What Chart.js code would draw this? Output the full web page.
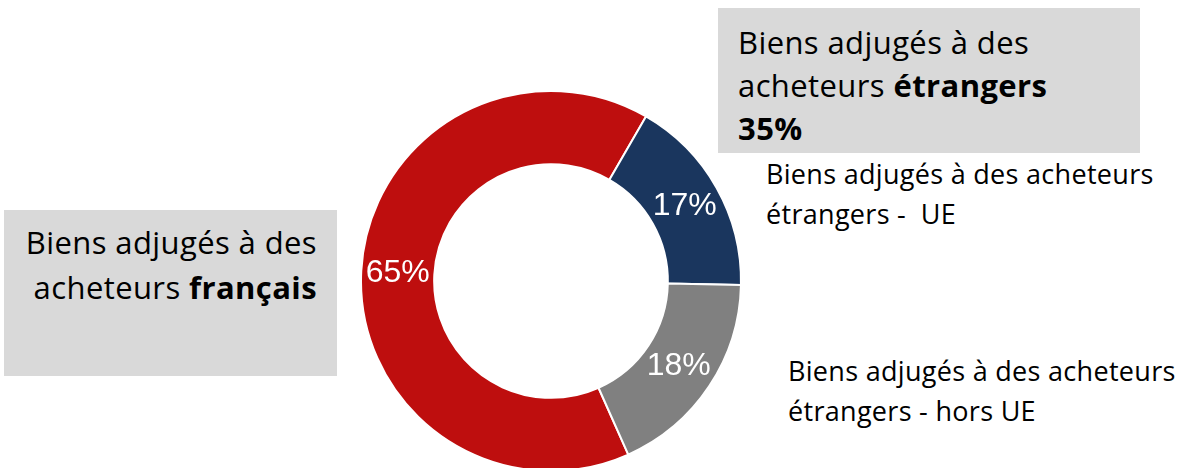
<!DOCTYPE html>
<html lang="fr">
<head>
<meta charset="utf-8">
<script src="https://cdn.jsdelivr.net/npm/chart.js@4/dist/chart.umd.min.js"></script>
<style>
  html, body { margin: 0; padding: 0; background: #fff; overflow: hidden; }
  #wrap { position: relative; width: 1181px; height: 468px; }
  #wrap canvas { position: absolute; left: 0; top: 0; }
  .box { position: absolute; background: #d9d9d9; }
  .txt { position: absolute; font-family: "Open Sans", Lato, sans-serif; color: #000; white-space: nowrap; }
  .big { font-size: 31px; letter-spacing: 0.4px; }
  .small { font-size: 27px; line-height: 40px; letter-spacing: 0.3px; }
  b { font-weight: 700; }
</style>
</head>
<body>
<div id="wrap">
  <div class="box" style="left:4px; top:210px; width:333px; height:166px;"></div>
  <div class="box" style="left:718px; top:8px; width:422px; height:145px;"></div>
  <div class="txt big" style="right:864px; top:220px; line-height:45px; text-align:right;">Biens adjugés à des<br>acheteurs <b>français</b></div>
  <div class="txt big" style="left:738px; top:21px; line-height:43px;">Biens adjugés à des<br>acheteurs <b>étrangers</b><br><b>35%</b></div>
  <div class="txt small" style="left:766px; top:154px;">Biens adjugés à des acheteurs<br>étrangers -&nbsp; UE</div>
  <div class="txt small" style="left:788px; top:351px;">Biens adjugés à des acheteurs<br>étrangers - hors UE</div>
  <canvas id="donut"></canvas>
</div>
<script>
// Données du graphique
const categories = ['Acheteurs français', 'Acheteurs étrangers - UE', 'Acheteurs étrangers - hors UE'];
const shares = [65, 17, 18];
const sliceColors = ['#be0e0e', '#1a365e', '#808080'];

// Étiquettes en pourcentage au milieu de chaque arc
const arcLabels = {
    id: 'arcLabels',
    afterDatasetsDraw(chart) {
        const ctx = chart.ctx;
        const meta = chart.getDatasetMeta(0);
        ctx.save();
        ctx.font = '32px "Liberation Sans", Arial, sans-serif';
        ctx.fillStyle = '#ffffff';
        ctx.textAlign = 'center';
        ctx.textBaseline = 'middle';
        meta.data.forEach((arc, i) => {
            const pos = arc.tooltipPosition();
            ctx.fillText(shares[i] + '%', pos.x, pos.y);
        });
        ctx.restore();
    }
};

const ctx = document.getElementById('donut').getContext('2d');
const chart = new Chart(ctx, {
    type: 'doughnut',
    data: {
        labels: categories,
        datasets: [{
            data: shares,
            backgroundColor: sliceColors,
            borderColor: '#ffffff',
            borderWidth: 2
        }]
    },
    options: {
        responsive: true,
        maintainAspectRatio: false,
        animation: false,
        rotation: 156,
        radius: 190,
        cutout: '61.5%',
        layout: { padding: { left: 0, right: 79, top: 94, bottom: 0 } },
        plugins: {
            legend: { display: false },
            tooltip: { enabled: false }
        }
    },
    plugins: [arcLabels]
});
</script>
</body>
</html>
